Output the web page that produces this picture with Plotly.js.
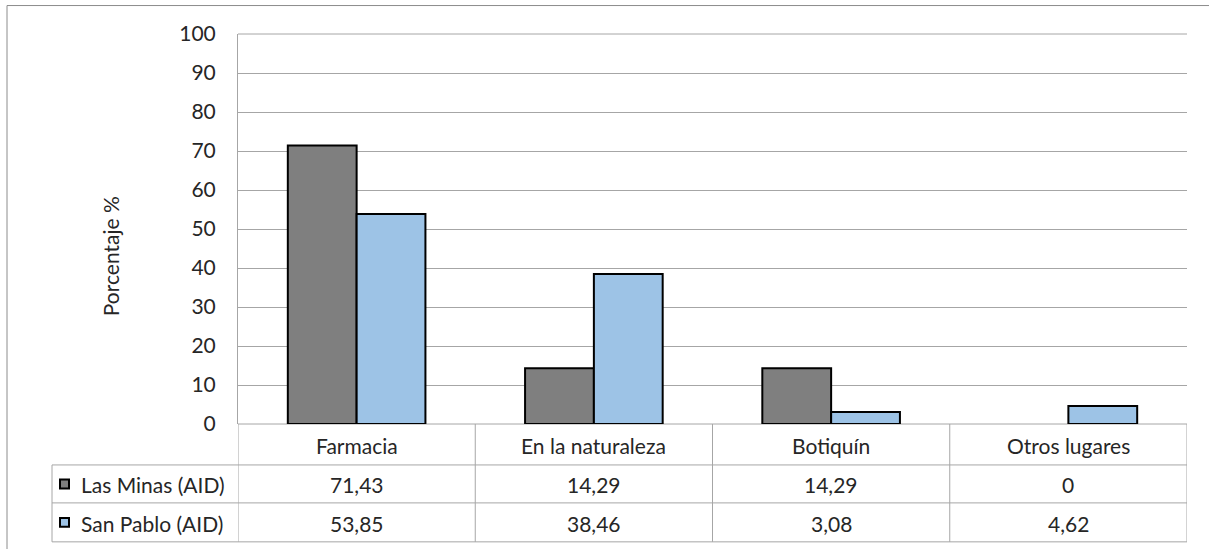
<!DOCTYPE html>
<html><head><meta charset="utf-8">
<script src="https://cdn.plot.ly/plotly-3.0.1.min.js"></script>
<style>html,body{margin:0;padding:0;background:#fff}#chart{width:1209px;height:549px}</style>
</head><body><div id="chart"></div>
<script>
const categories = ["Farmacia", "En la naturaleza", "Botiquín", "Otros lugares"];
const seriesNames = ["Las Minas (AID)", "San Pablo (AID)"];
const lasMinas = [71.43, 14.29, 14.29, 0];
const sanPablo = [53.85, 38.46, 3.08, 4.62];
const tableLasMinas = ["71,43", "14,29", "14,29", "0"];
const tableSanPablo = ["53,85", "38,46", "3,08", "4,62"];
const colors = ["#7F7F7F", "#9DC3E6"];

const W = 1209, H = 549, L = 238, R = 1187, T = 33.5, B = 424;
const px = v => (v - L) / (R - L);
const py = v => (B - v) / (B - T);
const FONT = "Lato, 'Open Sans', sans-serif";
const TXT = "#262626";
const GRID = "#A6A6A6";
const FS = 21;

const edge = vals => vals.map(v => v === 0 ? 0 : 2);
const traces = [
  {type: "bar", x: categories, y: lasMinas, name: seriesNames[0],
   marker: {color: colors[0], line: {color: "#000", width: edge(lasMinas)}}},
  {type: "bar", x: categories, y: sanPablo, name: seriesNames[1],
   marker: {color: colors[1], line: {color: "#000", width: edge(sanPablo)}}}
];

const shapes = [];
const annotations = [];
const line = (x0, y0, x1, y1, xref, color) => shapes.push({type: "line", xref: xref || "paper", yref: "paper",
  x0, y0, x1, y1, line: {color: color || GRID, width: 1}, layer: "below"});

// outer chart border (top and left)
line(px(7), py(5), px(1215), py(5), "paper", "#8C8C8C");
line(px(7), py(5), px(7), py(555), "paper", "#8C8C8C");
// top gridline at 100
line(0, 1, 1, 1);

// data table rows
const rowY = [424, 465, 503, 542];
line(px(L), py(rowY[0]), px(R), py(rowY[0]));
for (let i = 1; i < rowY.length; i++) line(px(52), py(rowY[i]), px(R), py(rowY[i]));
line(px(52), py(rowY[1]), px(52), py(rowY[3]));
for (let i = 0; i <= categories.length; i++) {
  shapes.push({type: "line", xref: "x", yref: "paper", x0: i - 0.5, x1: i - 0.5,
    y0: py(rowY[0]), y1: py(rowY[3]), line: {color: GRID, width: 1}});
}

const ann = (o) => annotations.push(Object.assign({showarrow: false, xanchor: "center", yanchor: "middle",
  font: {family: FONT, size: FS, color: TXT}}, o));
const rows = [tableLasMinas, tableSanPablo];
categories.forEach((c, i) => {
  ann({xref: "x", yref: "paper", x: i, y: py((rowY[0] + rowY[1]) / 2 + 1), text: c});
  rows.forEach((r, k) => ann({xref: "x", yref: "paper", x: i, y: py((rowY[k + 1] + rowY[k + 2]) / 2 + 1), text: r[i]}));
});
seriesNames.forEach((n, k) => {
  const yc = (rowY[k + 1] + rowY[k + 2]) / 2;
  shapes.push({type: "rect", xref: "paper", yref: "paper", x0: px(60), x1: px(69), y0: py(yc - 4.5), y1: py(yc + 4.5),
    fillcolor: colors[k], line: {color: "#000", width: 2}});
  ann({xref: "paper", yref: "paper", x: px(79), y: py(yc + 1), xanchor: "left", text: n});
});

ann({xref: "paper", yref: "paper", x: px(110), y: py(256), text: "Porcentaje %", textangle: -90});

const layout = {
  width: W, height: H,
  margin: {l: L, r: W - R, t: T, b: H - B, pad: 0},
  paper_bgcolor: "#fff", plot_bgcolor: "#fff",
  showlegend: false,
  barmode: "group", bargap: 0.42, bargroupgap: 0,
  font: {family: FONT, size: FS, color: TXT},
  xaxis: {type: "category", range: [-0.5, 3.5], showticklabels: false, showgrid: false, zeroline: false,
    showline: false, fixedrange: true},
  yaxis: {range: [0, 100], dtick: 10, tick0: 0, showgrid: true, gridcolor: GRID, gridwidth: 1,
    zeroline: false, showline: true, linecolor: GRID, linewidth: 1, ticks: "", ticklabelstandoff: 17,
    tickfont: {family: FONT, size: FS, color: TXT}, fixedrange: true},
  shapes, annotations
};
Plotly.newPlot("chart", traces, layout, {displayModeBar: false, staticPlot: true});
</script></body></html>
